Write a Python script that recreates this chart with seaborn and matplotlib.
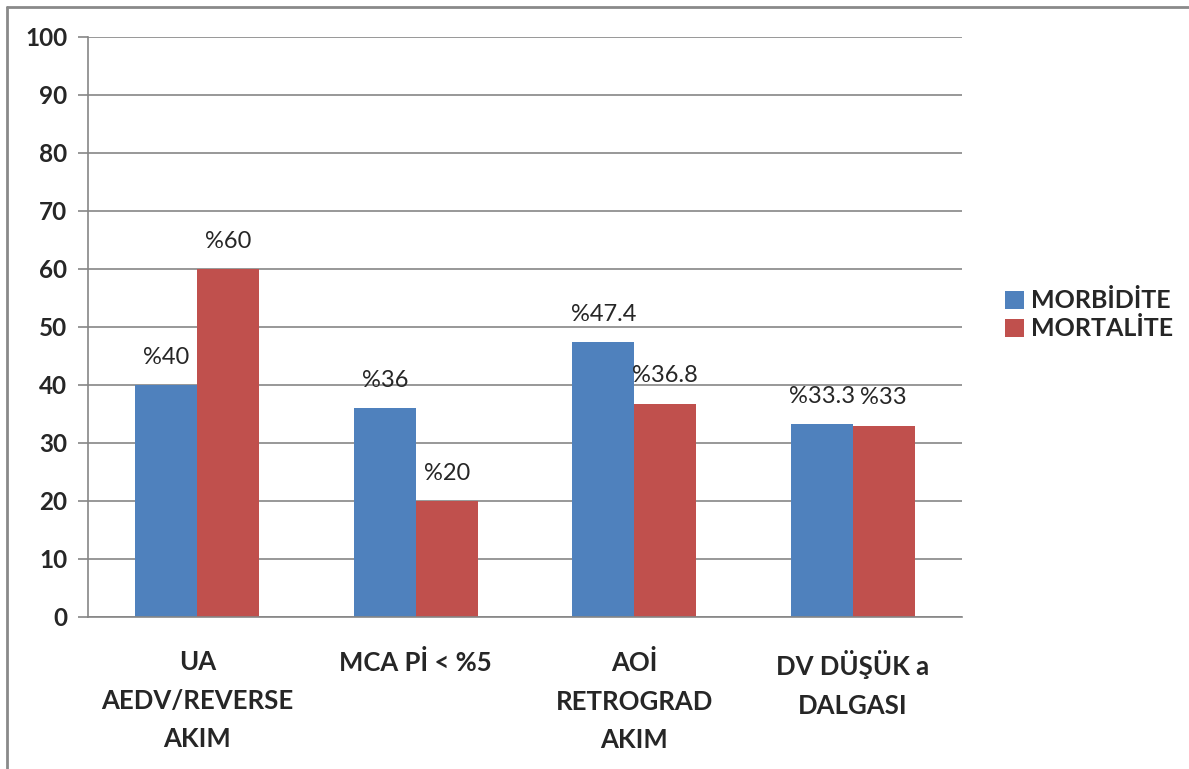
import matplotlib
matplotlib.use("Agg")
import matplotlib.pyplot as plt
from matplotlib.lines import Line2D
from matplotlib.patches import Patch
import seaborn as sns
import pandas as pd

categories = ["UA\nAEDV/REVERSE\nAKIM", "MCA Pİ < %5", "AOİ\nRETROGRAD\nAKIM", "DV DÜŞÜK a\nDALGASI"]
morbidite = [40, 36, 47.4, 33.3]
mortalite = [60, 20, 36.8, 33]
series_names = ["MORBİDİTE", "MORTALİTE"]
yticks = [0, 10, 20, 30, 40, 50, 60, 70, 80, 90, 100]

colors = ["#4F81BD", "#C0504D"]
grid_color = "#868686"

sns.set_theme(style="white")
plt.rcParams["font.family"] = ["Lato", "DejaVu Sans"]

df = pd.DataFrame({
    "category": categories * 2,
    "value": morbidite + mortalite,
    "series": [series_names[0]] * len(categories) + [series_names[1]] * len(categories),
})

fig = plt.figure(figsize=(11.89, 7.69), dpi=100)
ax = fig.add_axes([88 / 1189, 1 - 617 / 769, (962 - 88) / 1189, (617 - 37) / 769])

sns.barplot(data=df, x="category", y="value", hue="series", order=categories,
            hue_order=series_names, palette=colors, width=0.567, gap=0,
            saturation=1, legend=False, ax=ax, linewidth=0)

ax.set_ylim(0, 100)
ax.set_xlim(-0.5, len(categories) - 0.5)
ax.set_yticks(yticks)
ax.set_yticklabels([str(t) for t in yticks], fontsize=17.5, fontweight="bold")
ax.yaxis.grid(True, color=grid_color, linewidth=1.2)
ax.set_axisbelow(True)

ax.set_xticks(range(len(categories)))
ax.set_xticklabels(categories, fontsize=18.5, fontweight="bold", linespacing=1.72)
ax.set_xticks([i - 0.5 for i in range(len(categories) + 1)], minor=True)
ax.tick_params(axis="x", which="major", length=0, pad=24)
ax.tick_params(axis="x", which="minor", length=7, width=1.2, color=grid_color, direction="out")
ax.tick_params(axis="y", length=7, width=1.2, color=grid_color, direction="out", left=True, pad=8)

for s in ["top", "right"]:
    ax.spines[s].set_visible(False)
for s in ["left", "bottom"]:
    ax.spines[s].set_color(grid_color)
    ax.spines[s].set_linewidth(1.2)

ax.set_xlabel("")
ax.set_ylabel("")

# value labels above each bar
for container, vals in zip(ax.containers, [morbidite, mortalite]):
    for bar, v in zip(container, vals):
        ax.annotate(f"%{v:g}", (bar.get_x() + bar.get_width() / 2, bar.get_height()),
                    xytext=(0, 20), textcoords="offset points", ha="center", va="center",
                    fontsize=17, color="#262626")

handles = [Patch(facecolor=c, edgecolor="none") for c in colors]
fig.legend(handles, series_names, loc="center left", bbox_to_anchor=(995 / 1189, 1 - 315 / 769),
           frameon=False, prop={"weight": "bold", "size": 18},
           handlelength=0.75, handleheight=0.75, handletextpad=0.3, labelspacing=0.2,
           borderaxespad=0)

# chart frame
frame_kw = dict(color="#8a8a8a", linewidth=2, transform=fig.transFigure)
fig.add_artist(Line2D([7 / 1189, 7 / 1189], [0, 1 - 7 / 769], **frame_kw))
fig.add_artist(Line2D([7 / 1189, 1], [1 - 7 / 769, 1 - 7 / 769], **frame_kw))

fig.savefig("out.png", dpi=100, facecolor="white")
